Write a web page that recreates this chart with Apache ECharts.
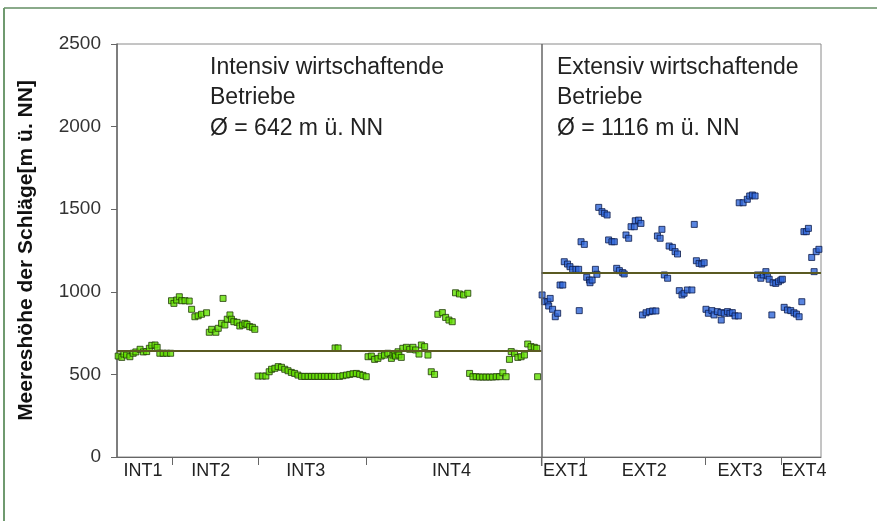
<!DOCTYPE html>
<html>
<head>
<meta charset="utf-8">
<script src="https://cdn.jsdelivr.net/npm/echarts@6/dist/echarts.min.js"></script>
<style>html,body{margin:0;padding:0;background:#fff}#c{width:877px;height:521px}</style>
</head>
<body>
<div id="c"></div>
<script>
// ---- data (x = sample position along farm sequence, y = altitude m ü. NN) ----
const intX = [0.4,1.6,2.3,3.2,4.3,5.4,6.3,7.7,8.8,9.9,10.8,11.6,12.7,13.4,14.3,15.4,16.6,17.9,
  18.2,19.0,19.9,20.8,21.6,22.7,24.1,24.9,26.0,27.1,28.2,29.9,30.8,31.6,33.0,33.8,34.9,35.4,36.0,36.8,37.7,38.2,39.0,40.1,41.0,41.9,42.7,43.4,44.3,45.2,46.0,
  47.1,48.6,49.7,50.8,51.6,52.7,53.8,54.9,56.0,57.1,58.2,59.3,60.4,61.6,62.7,63.8,64.9,66.0,67.1,68.2,69.3,70.4,71.6,72.7,72.8,73.8,74.3,75.4,76.6,77.7,78.8,79.9,81.0,82.1,83.2,
  83.8,84.9,86.0,87.1,88.2,89.3,90.4,91.6,92.1,92.7,93.0,93.8,94.1,94.9,95.4,96.6,97.7,98.8,99.7,100.8,101.6,102.7,103.8,104.9,106.0,107.1,108.6,109.7,110.8,111.9,113.0,114.3,115.7,117.1,117.7,118.8,119.9,121.0,122.1,123.2,124.3,125.4,126.6,127.7,128.8,129.9,131.0,131.6,132.7,133.8,134.9,136.0,137.1,138.2,139.3,140.1,140.4];
const intY = [611,603,623,617,607,628,636,652,636,638,658,676,678,664,628,628,628,628,
  946,930,950,970,946,946,944,894,849,855,864,873,755,773,755,779,809,960,799,834,860,834,819,815,793,799,809,803,789,785,773,
  490,490,490,516,531,537,547,543,531,522,512,506,496,488,488,488,488,488,488,488,488,488,488,488,660,660,488,492,496,500,504,506,500,494,486,
  607,611,591,597,611,617,628,597,617,623,611,637,617,603,658,664,652,664,648,623,678,668,617,516,500,864,874,845,829,819,994,987,981,991,506,486,486,484,484,484,484,484,486,486,510,486,591,638,628,603,607,617,684,668,664,658,486];
const extX = [141.9,142.7,143.8,144.1,144.6,145.4,146.3,147.1,147.9,148.8,149.3,150.4,151.2,152.1,153.2,154.1,154.3,154.9,156.0,156.8,157.7,157.9,158.6,159.7,160.2,160.8,161.9,162.7,163.6,164.1,165.2,166.0,166.8,167.7,168.8,169.3,169.9,170.8,171.6,172.7,173.0,174.1,174.9,175.4,176.6,177.7,178.8,179.9,180.4,181.3,181.9,182.7,183.8,184.3,185.4,186.3,187.1,187.7,188.6,189.3,190.4,191.9,192.7,193.4,194.3,195.2,196.0,196.6,197.4,198.6,199.3,200.4,201.6,201.7,202.7,203.8,204.6,205.4,206.3,207.4,207.7,209.0,210.4,211.2,212.1,213.0,213.8,214.9,215.7,216.6,217.1,217.7,218.6,219.0,219.9,220.8,221.6,222.1,222.7,223.8,224.9,226.0,226.8,227.7,228.6,229.3,230.1,230.8,231.9,232.7,233.4,234.3];
const extY = [981,940,940,914,960,894,849,870,1041,1041,1182,1168,1152,1136,1136,1136,886,1303,1287,1088,1071,1055,1071,1136,1106,1511,1485,1475,1465,1314,1303,1303,1142,1128,1116,1108,1344,1324,1394,1394,1430,1434,1414,860,873,880,884,884,1338,1324,1378,1102,1082,1277,1269,1243,1229,1007,981,991,1011,1011,1408,1188,1172,1168,1176,894,870,886,860,880,874,829,870,880,870,874,854,854,1539,1539,1560,1580,1586,1580,1102,1082,1102,1122,1096,1076,860,1055,1051,1061,1071,1076,906,890,886,873,865,849,940,1364,1364,1384,1208,1122,1243,1257];

const intMean = 642;
const extMean = 1116;
const groupLabels = ['INT1','INT2','INT3','INT4','EXT1','EXT2','EXT3','EXT4'];
const groupLabelPos = [8.7, 31.3, 63, 111.7, 149.7, 176, 208, 229.3];
const groupBounds = [18.3, 47, 83.3, 141.7, 156, 196.3, 221.7];
const dividerX = 141.7;
const xMax = 235;
const yTicks = [0, 500, 1000, 1500, 2000, 2500];

const chart = echarts.init(document.getElementById('c'));
const font = 'Liberation Sans, Arial, sans-serif';

chart.setOption({
  animation: false,
  backgroundColor: '#fff',
  grid: { left: 117, right: 56, top: 44, bottom: 64, show: true, borderColor: '#8a8a8a', borderWidth: 1 },
  xAxis: {
    type: 'value', min: 0, max: xMax,
    axisLine: { lineStyle: { color: '#666', width: 1 } },
    axisTick: { show: true, customValues: groupBounds, length: 8, inside: false, lineStyle: { color: '#666' } },
    axisLabel: {
      customValues: groupLabelPos,
      formatter: v => groupLabels[groupLabelPos.indexOf(v)] || '',
      fontFamily: font, fontSize: 18, color: '#222', margin: 5
    },
    splitLine: { show: false }
  },
  yAxis: {
    type: 'value', min: yTicks[0], max: yTicks[yTicks.length - 1], interval: 500,
    name: 'Meereshöhe der Schläge[m ü. NN]',
    nameLocation: 'middle', nameGap: 80, nameRotate: 90,
    nameTextStyle: { fontFamily: font, fontSize: 21, fontWeight: 'bold', color: '#111' },
    axisLine: { show: true, lineStyle: { color: '#666', width: 1.5 } },
    axisTick: { show: true, length: 6, lineStyle: { color: '#666' } },
    axisLabel: { fontFamily: font, fontSize: 19, color: '#333', margin: 16, formatter: v => String(v) },
    splitLine: { show: false }
  },
  series: [
    {
      type: 'scatter', name: 'INT',
      data: intX.map((x, i) => [x, intY[i]]),
      symbol: 'rect', symbolSize: 6,
      itemStyle: { color: '#62e000', borderColor: '#1f3a06', borderWidth: 1 },
      z: 3,
      markLine: {
        silent: true, symbol: 'none', label: { show: false },
        lineStyle: { color: '#5a5a22', width: 2, type: 'solid' },
        data: [[{ coord: [0, intMean] }, { coord: [dividerX, intMean] }]]
      }
    },
    {
      type: 'scatter', name: 'EXT',
      data: extX.map((x, i) => [x, extY[i]]),
      symbol: 'rect', symbolSize: 6,
      itemStyle: { color: '#2f66d8', borderColor: '#0b1a4a', borderWidth: 1 },
      z: 3,
      markLine: {
        silent: true, symbol: 'none', label: { show: false },
        data: [
          [{ coord: [dividerX, extMean], lineStyle: { color: '#5a5a22', width: 2, type: 'solid' } },
           { coord: [xMax, extMean] }],
          [{ coord: [dividerX, yTicks[0]], lineStyle: { color: '#666', width: 1.5, type: 'solid' } },
           { coord: [dividerX, yTicks[yTicks.length - 1]] }]
        ]
      }
    }
  ],
  graphic: [
    { type: 'line', shape: { x1: 4, y1: 8, x2: 877, y2: 8 }, style: { stroke: '#8aaa8a', lineWidth: 2 } },
    { type: 'line', shape: { x1: 4, y1: 8, x2: 4, y2: 521 }, style: { stroke: '#6f9a6f', lineWidth: 2 } },
    { type: 'line', shape: { x1: 541.7, y1: 457, x2: 541.7, y2: 466 }, style: { stroke: '#666', lineWidth: 1.5 } },
    { type: 'text', left: 210, top: 52, style: {
        text: 'Intensiv wirtschaftende\nBetriebe\nØ = ' + intMean + ' m ü. NN',
        font: '23px ' + font, fill: '#222', lineHeight: 30.5 } },
    { type: 'text', left: 557, top: 52, style: {
        text: 'Extensiv wirtschaftende\nBetriebe\nØ = ' + extMean + ' m ü. NN',
        font: '23px ' + font, fill: '#222', lineHeight: 30.5 } }
  ]
});
</script>
</body>
</html>
